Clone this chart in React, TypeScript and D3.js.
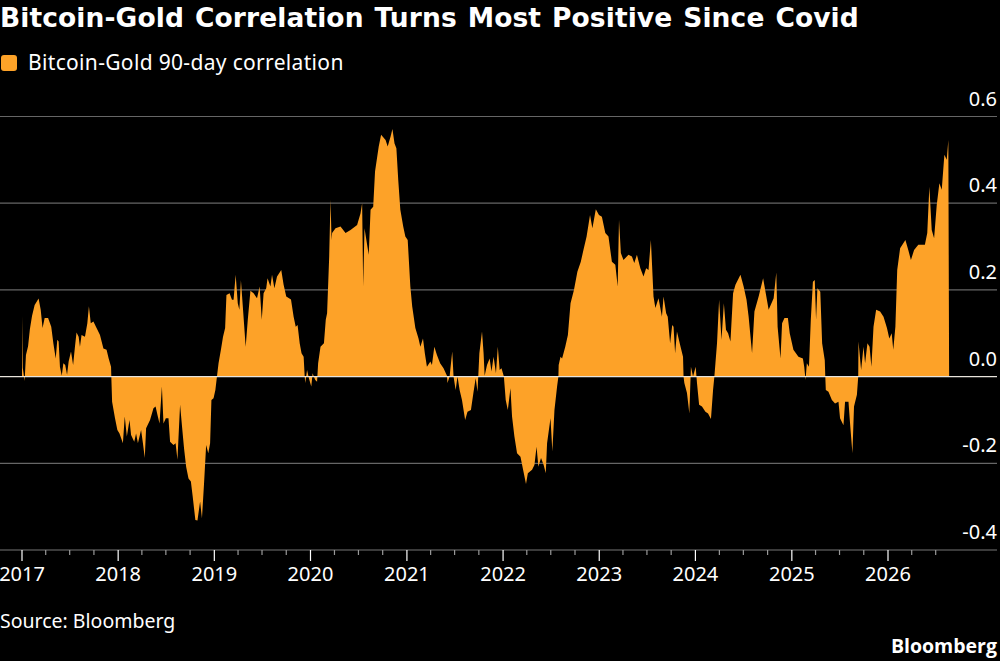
import { useEffect, useRef } from 'react'
import * as d3 from 'd3'

// [day of year, correlation], one list per year
const y2017: [number, number][] = [[0, 0], [1, 0.14], [3, 0.02], [10, -0.01], [15, 0.05], [23, 0.07], [30, 0.11], [38, 0.14], [48, 0.165], [63, 0.18], [71, 0.154], [78, 0.112], [86, 0.135], [99, 0.135], [111, 0.115], [119, 0.077], [128, 0.042], [134, 0.085], [139, 0.081], [144, 0.023], [151, 0.002], [157, 0.031], [164, 0.027], [171, 0.004], [177, 0.035], [186, 0.058], [194, 0.027], [201, 0.069], [207, 0.102], [215, 0.092], [220, 0.069], [226, 0.096], [239, 0.092], [248, 0.123], [254, 0.162], [261, 0.123], [271, 0.127], [283, 0.112], [296, 0.096], [309, 0.065], [321, 0.062], [329, 0.042], [338, 0.023], [339, 0], [342, -0.058], [353, -0.096], [362, -0.123]]
const y2018: [number, number][] = [[5, -0.131], [18, -0.154], [25, -0.092], [33, -0.138], [43, -0.1], [49, -0.135], [61, -0.15], [68, -0.131], [75, -0.154], [87, -0.123], [94, -0.154], [101, -0.188], [106, -0.119], [121, -0.1], [134, -0.073], [142, -0.069], [149, -0.088], [157, -0.108], [166, -0.023], [172, -0.108], [181, -0.096], [191, -0.096], [197, -0.15], [210, -0.158], [218, -0.154], [225, -0.192], [235, -0.065], [243, -0.119], [250, -0.165], [258, -0.208], [267, -0.235], [276, -0.242], [283, -0.277], [293, -0.331], [301, -0.332], [311, -0.288], [318, -0.327], [326, -0.246], [334, -0.158], [342, -0.177], [349, -0.154], [354, -0.054], [362, -0.05]]
const y2019: [number, number][] = [[4, -0.031], [10, 0], [16, 0.031], [25, 0.062], [33, 0.092], [41, 0.112], [46, 0.188], [58, 0.192], [67, 0.177], [73, 0.177], [81, 0.235], [89, 0.169], [95, 0.154], [101, 0.222], [109, 0.154], [119, 0.069], [127, 0.131], [137, 0.198], [149, 0.192], [162, 0.181], [172, 0.208], [180, 0.131], [187, 0.192], [197, 0.204], [202, 0.227], [213, 0.208], [219, 0.235], [228, 0.204], [238, 0.231], [254, 0.246], [263, 0.212], [273, 0.185], [291, 0.178], [301, 0.138], [309, 0.115], [316, 0.119], [324, 0.077], [331, 0.054], [339, 0.046], [343, 0], [345, -0.015], [352, 0.015], [359, -0.004]]
const y2020: [number, number][] = [[3, -0.023], [8, 0.008], [18, -0.008], [25, -0.012], [29, 0.031], [38, 0.069], [51, 0.077], [58, 0.131], [63, 0.146], [71, 0.277], [76, 0.408], [80, 0.315], [82, 0.331], [95, 0.342], [114, 0.346], [133, 0.331], [152, 0.338], [177, 0.35], [190, 0.377], [196, 0.4], [200, 0.208], [205, 0.342], [221, 0.281], [228, 0.385], [238, 0.392], [245, 0.473], [259, 0.531], [268, 0.558], [285, 0.546], [293, 0.531], [304, 0.554], [311, 0.571], [319, 0.538], [326, 0.527], [333, 0.454], [341, 0.385], [352, 0.346], [360, 0.323]]
const y2021: [number, number][] = [[3, 0.315], [13, 0.208], [20, 0.162], [32, 0.112], [44, 0.088], [51, 0.069], [61, 0.088], [68, 0.054], [76, 0.023], [89, 0.035], [95, 0.027], [104, 0.069], [114, 0.05], [126, 0.031], [139, 0.019], [152, 0.002], [154, -0.015], [162, 0], [172, 0.058], [177, 0], [185, -0.031], [192, 0], [200, -0.031], [209, -0.054], [221, -0.1], [230, -0.081], [243, -0.077], [253, -0.035], [261, -0.004], [268, -0.035], [275, 0.054], [285, 0.104], [291, 0.054], [295, 0.002], [304, 0.027], [314, 0.042], [321, 0.012], [329, 0.046], [338, 0.008], [345, 0.069], [352, 0.015], [359, 0.019]]
const y2022: [number, number][] = [[3, 0], [10, -0.054], [18, -0.077], [28, -0.027], [34, -0.092], [43, -0.138], [53, -0.177], [66, -0.185], [76, -0.215], [87, -0.248], [94, -0.223], [110, -0.215], [119, -0.204], [127, -0.162], [134, -0.208], [144, -0.188], [154, -0.204], [162, -0.223], [167, -0.154], [180, -0.096], [187, -0.173], [195, -0.077], [205, -0.023], [210, 0], [211, 0.027], [218, 0.046], [224, 0.042], [236, 0.069], [246, 0.096], [256, 0.169], [269, 0.2], [282, 0.242], [295, 0.265], [305, 0.292], [317, 0.323], [330, 0.373], [339, 0.342], [352, 0.386], [364, 0.373]]
const y2023: [number, number][] = [[10, 0.369], [23, 0.331], [35, 0.323], [48, 0.265], [61, 0.258], [70, 0.208], [75, 0.362], [82, 0.285], [92, 0.269], [111, 0.281], [124, 0.277], [133, 0.262], [143, 0.281], [156, 0.25], [168, 0.231], [178, 0.25], [187, 0.246], [196, 0.315], [206, 0.185], [213, 0.158], [225, 0.181], [238, 0.138], [244, 0.185], [254, 0.146], [260, 0.138], [269, 0.077], [277, 0.119], [282, 0.115], [288, 0.054], [295, 0.104], [307, 0.073], [318, 0.046], [320, 0], [323, -0.015], [333, -0.038], [342, -0.085], [348, 0.023], [356, 0]]
const y2024: [number, number][] = [[1, 0.023], [6, -0.015], [14, -0.065], [25, -0.069], [38, -0.081], [48, -0.085], [59, -0.098], [67, -0.031], [72, 0], [76, 0.031], [82, 0.077], [90, 0.177], [99, 0.085], [108, 0.169], [116, 0.108], [124, 0.1], [133, 0.081], [143, 0.192], [152, 0.212], [171, 0.235], [183, 0.208], [194, 0.177], [202, 0.138], [215, 0.054], [224, 0.15], [240, 0.185], [257, 0.227], [266, 0.196], [278, 0.154], [297, 0.181], [307, 0.24], [312, 0.115], [323, 0.042], [329, 0.123], [338, 0.135], [351, 0.135], [358, 0.1]]
const y2025: [number, number][] = [[6, 0.062], [25, 0.046], [42, 0.042], [47, 0.023], [52, -0.008], [57, 0.031], [65, 0.023], [72, 0.131], [80, 0.219], [87, 0.223], [92, 0.131], [97, 0.204], [108, 0.196], [115, 0.077], [125, 0.038], [127, 0], [129, -0.031], [139, -0.035], [152, -0.054], [164, -0.062], [177, -0.058], [183, -0.096], [196, -0.112], [202, -0.058], [215, -0.058], [221, -0.108], [230, -0.177], [236, -0.069], [247, -0.042], [252, 0], [253, 0.081], [263, 0.015], [272, 0.069], [278, 0.031], [287, 0.077], [295, 0.069], [302, 0.023], [310, 0.115], [320, 0.154], [335, 0.15], [348, 0.138], [361, 0.112]]
const y2026: [number, number][] = [[5, 0.088], [14, 0.1], [20, 0.062], [28, 0.115], [35, 0.246], [46, 0.296], [66, 0.315], [77, 0.292], [87, 0.269], [99, 0.292], [115, 0.304], [140, 0.304], [149, 0.331], [157, 0.438], [166, 0.338], [175, 0.319], [185, 0.396], [195, 0.446], [204, 0.431], [214, 0.512], [223, 0.5], [229, 0.546], [232, 0]]

const years = [2017, 2018, 2019, 2020, 2021, 2022, 2023, 2024, 2025, 2026]
const yearSeries = [y2017, y2018, y2019, y2020, y2021, y2022, y2023, y2024, y2025, y2026]
const yTicks = [0.6, 0.4, 0.2, 0, -0.2, -0.4]

const title = 'Bitcoin-Gold Correlation Turns Most Positive Since Covid'
const seriesName = 'Bitcoin-Gold 90-day correlation'
const source = 'Source: Bloomberg'

const orange = '#fda228'
const sans = '"Noto Sans", sans-serif'
const heavy = '"DejaVu Sans", sans-serif'

export default function App() {
  const ref = useRef<SVGSVGElement | null>(null)

  useEffect(() => {
    if (!ref.current) return
    const svg = d3.select(ref.current)
    svg.selectAll('*').remove()

    const width = 1000
    const height = 661
    const right = 997

    const data = yearSeries.flatMap((pts, i) =>
      pts.map(([day, value]) => ({ date: new Date(Date.UTC(years[i], 0, 1 + day)), value }))
    )

    const x = d3.scaleUtc()
      .domain([new Date(Date.UTC(2017, 0, 1)), new Date(Date.UTC(2026, 0, 1))])
      .range([22, 888])
    const y = d3.scaleLinear().domain([-0.4, 0.6]).range([550, 116.5])

    svg.append('rect').attr('width', width).attr('height', height).attr('fill', '#000')

    // Grid lines
    yTicks.filter(t => t !== 0 && t !== -0.4).forEach(t => {
      svg.append('line').attr('x1', 0).attr('x2', right).attr('y1', y(t)).attr('y2', y(t))
        .attr('stroke', '#666').attr('stroke-width', 1.2)
    })

    // Area
    const area = d3.area<{ date: Date; value: number }>()
      .x(d => x(d.date))
      .y0(y(0))
      .y1(d => y(d.value))
    svg.append('path').datum(data).attr('fill', orange).attr('d', area)

    // Zero line
    svg.append('line').attr('x1', 0).attr('x2', right).attr('y1', y(0)).attr('y2', y(0))
      .attr('stroke', '#e8e4dc').attr('stroke-width', 1.3)

    // Y labels, plain hyphen for negatives like the original
    const yAxis = svg.append('g').attr('transform', `translate(${right},0)`)
      .call(d3.axisLeft(y).tickValues(yTicks).tickSize(0).tickPadding(0)
        .tickFormat(d => (d as number).toFixed(1)))
    yAxis.select('.domain').remove()
    yAxis.selectAll('text')
      .attr('fill', '#fff').attr('dy', 0).attr('y', -11.5)
      .style('font-size', '20px').style('font-family', sans)

    // X axis, quarter ticks with long ones at the years
    const quarters = d3.utcMonth.every(3)!.range(
      new Date(Date.UTC(2017, 0, 1)), new Date(Date.UTC(2026, 9, 1))
    )
    svg.append('line').attr('x1', 0).attr('x2', right).attr('y1', 550).attr('y2', 550)
      .attr('stroke', '#777').attr('stroke-width', 1.2)
    quarters.forEach(q => {
      const major = q.getUTCMonth() === 0
      svg.append('line').attr('x1', x(q)).attr('x2', x(q)).attr('y1', 550).attr('y2', major ? 561 : 555)
        .attr('stroke', major ? '#fff' : '#999').attr('stroke-width', 1.2)
    })
    years.forEach(yr => {
      svg.append('text').attr('x', x(new Date(Date.UTC(yr, 0, 1)))).attr('y', 581)
        .attr('text-anchor', 'middle').attr('fill', '#fff')
        .style('font-size', '20px').style('font-family', sans).text(yr)
    })

    // Title, legend, footer
    svg.append('text').attr('x', 0).attr('y', 27).attr('fill', '#fff')
      .style('font-size', '26.5px').style('font-weight', 700).style('font-family', heavy)
      .style('letter-spacing', '0.1px').style('word-spacing', '1.6px').text(title)
    svg.append('rect').attr('x', 1).attr('y', 55).attr('width', 16).attr('height', 16).attr('rx', 3).attr('fill', orange)
    svg.append('text').attr('x', 28).attr('y', 70).attr('fill', '#fff')
      .style('font-size', '21px').style('letter-spacing', '0.33px').style('font-family', sans).text(seriesName)
    svg.append('text').attr('x', 0).attr('y', 628).attr('fill', '#fff')
      .style('font-size', '19.5px').style('font-family', sans).text(source)
    svg.append('text').attr('x', right).attr('y', 653).attr('text-anchor', 'end').attr('fill', '#fff')
      .style('font-size', '19.5px').style('font-weight', 700).style('font-family', '"Open Sans", sans-serif').text('Bloomberg')
  }, [])

  return <svg ref={ref} width={1000} height={661} style={{ position: 'absolute', left: 0, top: 0 }} />
}
